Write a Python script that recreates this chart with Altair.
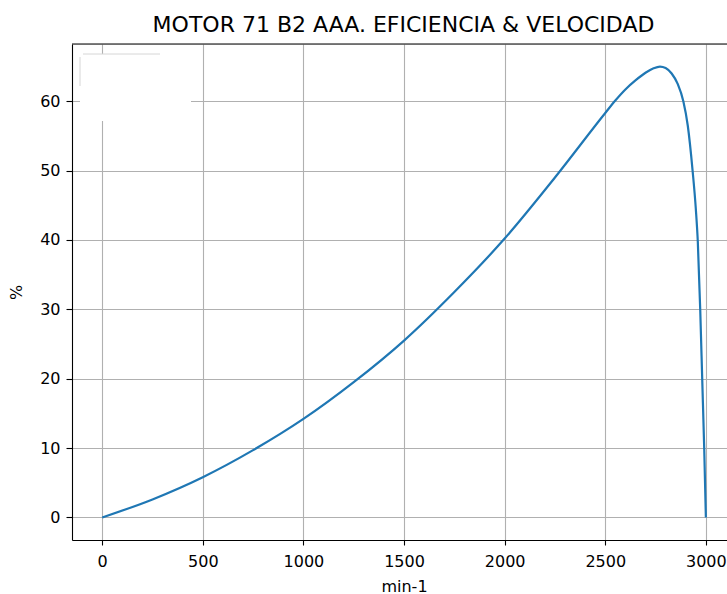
import altair as alt
import pandas as pd

# Motor 71 B2 AAA: efficiency (%) against shaft speed (min-1)
speed = [0, 250, 500, 750, 1000, 1250, 1500, 1750, 2000, 2250, 2500, 2550,
         2600, 2650, 2700, 2740, 2772, 2800, 2830, 2860, 2888, 2910, 2934,
         2950, 2960, 2972, 2982, 2992, 3000]
efficiency = [0.0, 2.6, 5.8, 9.7, 14.2, 19.5, 25.5, 32.5, 40.2, 49.0, 58.3, 60.1,
              61.7, 63.0, 64.1, 64.75, 65.0, 64.8, 64.0, 62.5, 60.0, 56.5, 50.0,
              44.5, 39.7, 29.9, 19.8, 9.7, 0.0]
x_ticks = [0, 500, 1000, 1500, 2000, 2500, 3000]
y_ticks = [0, 10, 20, 30, 40, 50, 60]

df = pd.DataFrame({"speed": speed, "efficiency": efficiency})
one = pd.DataFrame({"k": [0]})

W, H = 655, 496
FONT = "DejaVu Sans"

x_axis = alt.Axis(values=x_ticks, format="d", grid=True, gridColor="#b0b0b0",
                  gridWidth=1.1, domainColor="black", domainWidth=1.1,
                  tickColor="black", tickWidth=1.1, tickSize=5, labelPadding=8,
                  labelFlush=False, labelFont=FONT, labelFontSize=16,
                  labelColor="black", labelOverlap=False, title="min-1",
                  titleFont=FONT, titleFontSize=16, titleFontWeight="normal",
                  titleColor="black", titleX=332, titleY=46,
                  titleBaseline="middle", titleAlign="center")
y_axis = alt.Axis(values=y_ticks, format="d", grid=True, gridColor="#b0b0b0",
                  gridWidth=1.1, domainColor="black", domainWidth=1.1,
                  tickColor="black", tickWidth=1.1, tickSize=6, labelPadding=6,
                  labelFlush=False, labelFont=FONT, labelFontSize=16,
                  labelColor="black", title="%", titleFont=FONT, titleFontSize=16,
                  titleFontWeight="normal", titleColor="black",
                  titleX=-56, titleY=248, titleBaseline="middle", titleAlign="center")

line = alt.Chart(df).mark_line(color="#1f77b4", strokeWidth=2.2,
                               interpolate="monotone").encode(
    x=alt.X("speed:Q", scale=alt.Scale(domain=[-150, 3105], nice=False, zero=False),
            axis=x_axis),
    y=alt.Y("efficiency:Q", scale=alt.Scale(domain=[-3.25, 68.25], nice=False, zero=False),
            axis=y_axis),
)

# empty legend frame in the upper-left corner
legend_bg = alt.Chart(one).mark_rect(color="white").encode(
    x=alt.value(8), x2=alt.value(119), y=alt.value(10), y2=alt.value(77))
legend_top = alt.Chart(one).mark_rule(color="#d6d6d6", strokeWidth=1).encode(
    x=alt.value(11), x2=alt.value(88), y=alt.value(10))
legend_left = alt.Chart(one).mark_rule(color="#d6d6d6", strokeWidth=1).encode(
    x=alt.value(8), y=alt.value(13), y2=alt.value(42))

# top spine
top_spine = alt.Chart(one).mark_rule(color="black", strokeWidth=1.1).encode(
    x=alt.value(0), x2=alt.value(W), y=alt.value(0))

chart = alt.layer(line, legend_bg, legend_top, legend_left, top_spine).properties(
    width=W, height=H,
    autosize=alt.AutoSizeParams(type="none"),
    padding={"left": 72, "top": 44, "right": 0, "bottom": 54},
    title=alt.TitleParams("MOTOR 71 B2 AAA. EFICIENCIA & VELOCIDAD", font=FONT,
                          fontSize=22, fontWeight="normal", color="black",
                          anchor="middle", frame="group", dx=4, offset=-11,
                          baseline="alphabetic"),
).configure_view(strokeWidth=0).configure(background="white")

chart.save("out.html", embed_options={"renderer": "svg", "actions": False})
